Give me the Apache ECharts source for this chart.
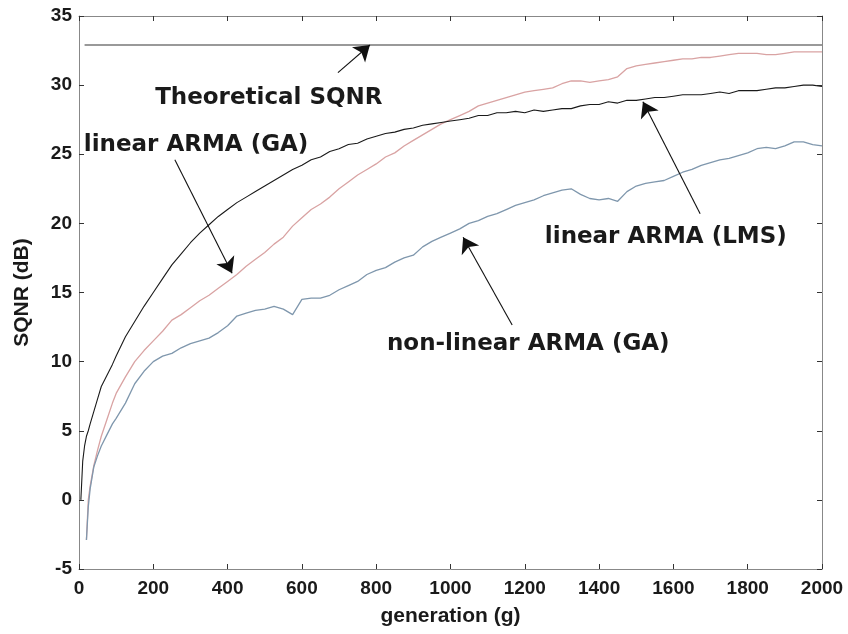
<!DOCTYPE html>
<html>
<head>
<meta charset="utf-8">
<script src="https://cdn.jsdelivr.net/npm/echarts@6/dist/echarts.min.js"></script>
<style>html,body{margin:0;padding:0;background:#fff}#c{width:848px;height:634px}</style>
</head>
<body>
<div id="c"></div>
<script>
// generation axis samples
var gen = [5,10,15,20,25,30,40,50,60,75,90,
  100,125,150,175,200,225,250,275,300,325,350,375,400,425,450,475,500,525,550,575,
  600,625,650,675,700,725,750,775,800,825,850,875,900,925,950,975,1000,1025,1050,1075,
  1100,1125,1150,1175,1200,1225,1250,1275,1300,1325,1350,1375,1400,1425,1450,1475,1500,1525,1550,1575,
  1600,1625,1650,1675,1700,1725,1750,1775,1800,1825,1850,1875,1900,1925,1950,1975,2000];

// linear ARMA (LMS) - black
var lmsVals = [0.0,2.8,3.9,4.6,5.0,5.5,6.4,7.3,8.2,9.0,9.8,
  10.4,11.8,12.9,14.0,15.0,16.0,17.0,17.8,18.6,19.3,19.9,20.5,21.0,21.5,21.9,22.3,22.7,23.1,23.5,23.9,
  24.2,24.6,24.8,25.2,25.4,25.7,25.8,26.1,26.3,26.5,26.6,26.8,26.9,27.1,27.2,27.3,27.4,27.5,27.6,27.8,
  27.8,28.0,28.0,28.1,28.0,28.2,28.1,28.2,28.3,28.3,28.5,28.6,28.6,28.8,28.7,28.9,28.9,29.0,29.1,29.1,
  29.2,29.3,29.3,29.3,29.4,29.5,29.4,29.6,29.6,29.6,29.7,29.8,29.8,29.9,30.0,30.0,29.9];

// linear ARMA (GA) - red
var gaVals = [null,null,null,-2.9,0.0,1.0,2.5,3.6,4.6,5.8,7.0,
  7.7,8.9,10.0,10.8,11.5,12.2,13.0,13.4,13.9,14.4,14.8,15.3,15.8,16.3,16.9,17.4,17.9,18.5,19.0,19.8,
  20.4,21.0,21.4,21.9,22.5,23.0,23.5,23.9,24.3,24.8,25.1,25.6,26.0,26.4,26.8,27.2,27.5,27.8,28.1,28.5,
  28.7,28.9,29.1,29.3,29.5,29.6,29.7,29.8,30.1,30.3,30.3,30.2,30.3,30.4,30.6,31.2,31.4,31.5,31.6,31.7,
  31.8,31.9,31.9,32.0,32.0,32.1,32.2,32.3,32.3,32.3,32.2,32.2,32.3,32.4,32.4,32.4,32.4];

// non-linear ARMA (GA) - blue
var nlVals = [null,null,null,-2.9,-0.5,0.8,2.4,3.2,3.9,4.7,5.5,
  5.9,7.0,8.4,9.3,10.0,10.4,10.6,11.0,11.3,11.5,11.7,12.1,12.6,13.3,13.5,13.7,13.8,14.0,13.8,13.4,
  14.5,14.6,14.6,14.8,15.2,15.5,15.8,16.3,16.6,16.8,17.2,17.5,17.7,18.3,18.7,19.0,19.3,19.6,20.0,20.2,
  20.5,20.7,21.0,21.3,21.5,21.7,22.0,22.2,22.4,22.5,22.1,21.8,21.7,21.8,21.6,22.3,22.7,22.9,23.0,23.1,
  23.4,23.7,23.9,24.2,24.4,24.6,24.7,24.9,25.1,25.4,25.5,25.4,25.6,25.9,25.9,25.7,25.6];

// theoretical SQNR
var theoGen = [15, 2000];
var theoVals = [32.9, 32.9];

// annotation texts (data coords of left-middle anchor)
var annTexts = ['Theoretical SQNR', 'linear ARMA (GA)', 'linear ARMA (LMS)', 'non-linear ARMA (GA)'];
var annGen = [205, 13, 1254, 829];
var annVal = [29.1, 25.7, 19.0, 11.3];

// arrows: tail -> head
var arrTailGen = [697, 258, 1672, 1166];
var arrTailVal = [30.9, 24.6, 20.7, 12.65];
var arrHeadGen = [783, 412, 1518, 1034];
var arrHeadVal = [32.9, 16.4, 28.8, 19.0];

function pairs(xs, ys) {
  var out = [];
  for (var i = 0; i < xs.length; i++) out.push([xs[i], ys[i]]);
  return out;
}

var chart = echarts.init(document.getElementById('c'), null, {renderer: 'canvas'});
function labelFont(margin) {
  return {margin: margin, fontFamily: 'Liberation Sans, Arial, sans-serif', fontWeight: 'bold', fontSize: 19, color: '#1a1a1a',
    formatter: function (v) { return String(v); }};
}
function frame() { return {show: true, onZero: false, lineStyle: {color: '#888', width: 1}}; }
function tick() { return {show: true, inside: true, length: 5, lineStyle: {color: '#333', width: 1}}; }
var nameFont = {fontFamily: 'Liberation Sans, Arial, sans-serif', fontWeight: 'bold', fontSize: 21, color: '#1a1a1a'};

var arrowData = [];
for (var i = 0; i < arrTailGen.length; i++) {
  arrowData.push([{coord: [arrTailGen[i], arrTailVal[i]]}, {coord: [arrHeadGen[i], arrHeadVal[i]]}]);
}
var annData = [];
for (var j = 0; j < annTexts.length; j++) {
  annData.push({value: [annGen[j], annVal[j]], name: annTexts[j]});
}

chart.setOption({
  animation: false,
  backgroundColor: '#fff',
  grid: {left: 79, right: 26, top: 16, bottom: 65},
  xAxis: [{
    type: 'value', position: 'bottom', min: 0, max: 2000, interval: 200,
    axisLine: frame(), axisTick: tick(), splitLine: {show: false},
    axisLabel: labelFont(10),
    name: 'generation (g)', nameLocation: 'middle', nameGap: 37, nameTextStyle: nameFont
  }, {
    type: 'value', position: 'top', min: 0, max: 2000, interval: 200,
    axisLine: frame(), axisTick: tick(), axisLabel: {show: false}, splitLine: {show: false}
  }],
  yAxis: [{
    type: 'value', position: 'left', min: -5, max: 35, interval: 5,
    axisLine: frame(), axisTick: tick(), splitLine: {show: false},
    axisLabel: labelFont(7),
    name: 'SQNR (dB)', nameLocation: 'middle', nameGap: 46, nameTextStyle: nameFont
  }, {
    type: 'value', position: 'right', min: -5, max: 35, interval: 5,
    axisLine: frame(), axisTick: tick(), axisLabel: {show: false}, splitLine: {show: false}
  }],
  series: [
    {
      name: 'Theoretical SQNR', type: 'line', showSymbol: false, silent: true,
      data: pairs(theoGen, theoVals),
      lineStyle: {color: '#777', width: 1.6}
    },
    {
      name: 'linear ARMA (GA)', type: 'line', showSymbol: false, silent: true, connectNulls: false,
      data: pairs(gen, gaVals),
      lineStyle: {color: '#d9a3a3', width: 1.3}
    },
    {
      name: 'non-linear ARMA (GA)', type: 'line', showSymbol: false, silent: true, connectNulls: false,
      data: pairs(gen, nlVals),
      lineStyle: {color: '#7f97ad', width: 1.3}
    },
    {
      name: 'linear ARMA (LMS)', type: 'line', showSymbol: false, silent: true,
      data: pairs(gen, lmsVals),
      lineStyle: {color: '#1a1a1a', width: 1.1},
      markLine: {
        silent: true, symbol: ['none', 'arrow'], symbolSize: 15, precision: 3,
        label: {show: false},
        lineStyle: {color: '#111', width: 1.1, type: 'solid'},
        data: arrowData
      }
    },
    {
      name: 'annotations', type: 'scatter', symbolSize: 0, silent: true,
      data: annData,
      itemStyle: {opacity: 1, color: '#1a1a1a'},
      label: {
        show: true, position: 'right', distance: 0, opacity: 1,
        formatter: function (p) { return p.name; },
        fontFamily: 'DejaVu Sans, Verdana, sans-serif', fontWeight: 'bold', fontSize: 23, color: '#1a1a1a'
      }
    }
  ]
});
</script>
</body>
</html>
